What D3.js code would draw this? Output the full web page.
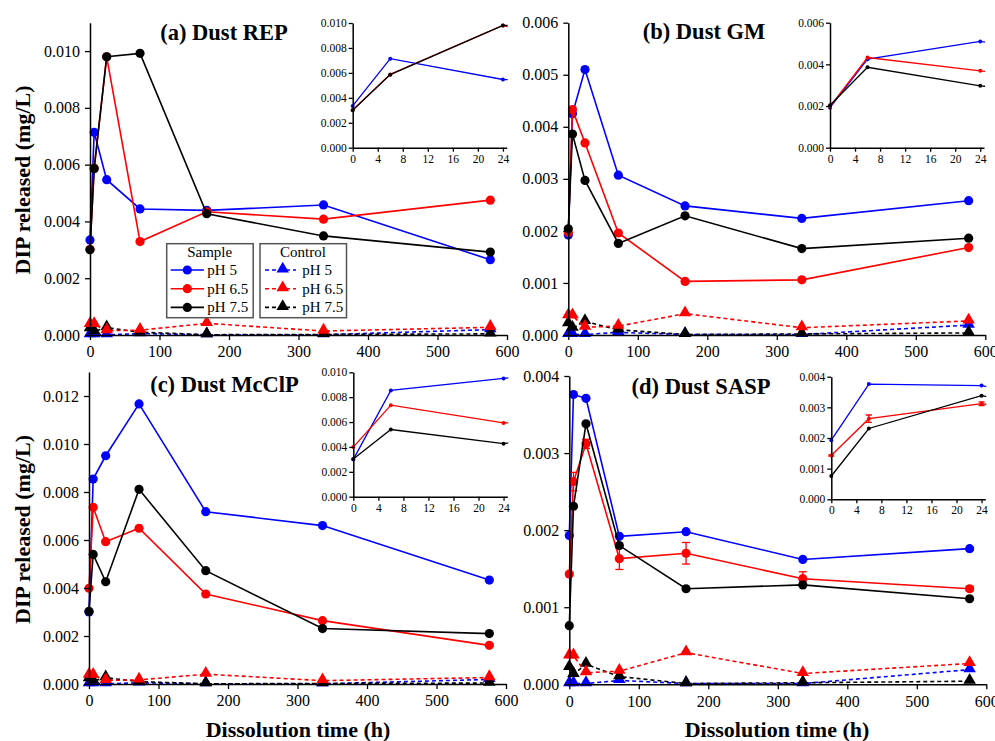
<!DOCTYPE html>
<html>
<head>
<meta charset="utf-8">
<script src="https://cdn.jsdelivr.net/npm/d3@7"></script>
<style>
  body { margin: 0; background: #fff; }
  text { font-family: "Liberation Serif", "Times New Roman", serif; }
</style>
</head>
<body>
<div id="chart"></div>
<script>
var width = 995;
var height = 741;

// sampling times (h)
var times = [0, 6, 24, 72, 168, 336, 576];

// (a) Dust REP
var repPH5  = [0.00335, 0.00714, 0.00547, 0.00444, 0.00439, 0.00458, 0.00265];
var repPH65 = [0.00302, 0.00588, 0.00980, 0.00329, 0.00434, 0.00408, 0.00475];
var repPH75 = [0.00300, 0.00586, 0.00980, 0.00992, 0.00427, 0.00349, 0.00292];

// (b) Dust GM
var gmPH5  = [0.00192, 0.00425, 0.00510, 0.00307, 0.00248, 0.00224, 0.00258];
var gmPH65 = [0.00197, 0.00433, 0.00369, 0.00196, 0.00103, 0.00106, 0.00168];
var gmPH75 = [0.00204, 0.00386, 0.00297, 0.00176, 0.00229, 0.00166, 0.00186];

// (c) Dust McClP
var mcPH5  = [0.00300, 0.00854, 0.00951, 0.01167, 0.00718, 0.00660, 0.00433];
var mcPH65 = [0.00399, 0.00736, 0.00593, 0.00649, 0.00375, 0.00264, 0.00161];
var mcPH75 = [0.00303, 0.00540, 0.00426, 0.00811, 0.00472, 0.00231, 0.00210];

// (d) Dust SASP
var saPH5  = [0.00193, 0.00376, 0.00371, 0.00192, 0.00198, 0.00162, 0.00176];
var saPH65 = [0.00143, 0.00263, 0.00312, 0.00163, 0.00170, 0.00137, 0.00124];
var saPH75 = [0.00076, 0.00231, 0.00338, 0.00180, 0.00124, 0.00129, 0.00111];
var saPH65Err = [0.00002, 0.00012, 0.00006, 0.00014, 0.00014, 0.00009, 0.00003];

// controls (no dust)
var ctrlPH5  = [0.00001, 0.00001, 0.00001, 0.00005, 0.00001, 0.00001, 0.00019];
var ctrlPH65 = [0.00037, 0.00037, 0.00015, 0.00017, 0.00041, 0.00014, 0.00027];
var ctrlPH75 = [0.00022, 0.00013, 0.00026, 0.00010, 0.00001, 0.00002, 0.00004];

var legendLabels = ["pH 5", "pH 6.5", "pH 7.5"];
var colors = ["#0000ff", "#ff0000", "#000000"];
var serif = "'Liberation Serif', 'Times New Roman', serif";

var svg = d3.select("#chart").append("svg")
    .attr("width", width)
    .attr("height", height)
    .attr("font-family", serif);

function range(a, b, step) {
  var out = [];
  for (var v = a; v <= b + step / 1000; v += step) out.push(+v.toFixed(6));
  return out;
}

function axes(g, x, y, xMajor, xMinor, yMajor, yMinor, fontSize, bigTick, pad) {
  var small = bigTick * 0.55;
  var xa = g.append("g").attr("transform", "translate(0," + y.range()[0] + ")");
  xa.call(d3.axisBottom(x).tickValues(xMinor).tickSize(small).tickFormat(""));
  xa.call(d3.axisBottom(x).tickValues(xMajor).tickSize(bigTick).tickSizeOuter(0).tickPadding(pad + 1));
  var ya = g.append("g").attr("transform", "translate(" + x.range()[0] + ",0)");
  ya.call(d3.axisLeft(y).tickValues(yMinor).tickSize(small).tickFormat(""));
  ya.call(d3.axisLeft(y).tickValues(yMajor).tickSize(bigTick).tickSizeOuter(0)
      .tickPadding(pad).tickFormat(d3.format(".3f")));
  g.selectAll("g").attr("font-family", serif);
  g.selectAll(".domain").attr("stroke", "#000").attr("stroke-width", 1.5);
  g.selectAll(".tick line").attr("stroke", "#000").attr("stroke-width", 1.3);
  g.selectAll(".tick text").attr("fill", "#000")
      .style("font-size", fontSize + "px")
      .style("font-family", serif);
}

function series(g, x, y, vals, color, dashed, shape, r, err) {
  var pts = times.map(function (t, i) { return { t: t, v: vals[i], e: err ? err[i] : 0 }; });
  var line = d3.line().x(function (d) { return x(d.t); }).y(function (d) { return y(d.v); });
  g.append("path")
      .datum(pts)
      .attr("d", line)
      .attr("fill", "none")
      .attr("stroke", color)
      .attr("stroke-width", r > 3 ? 1.6 : 1.3)
      .attr("stroke-dasharray", dashed ? "4,3" : null);
  if (err) {
    pts.forEach(function (d) {
      var cap = r > 3 ? 4 : 3;
      g.append("line").attr("x1", x(d.t)).attr("x2", x(d.t))
          .attr("y1", y(d.v - d.e)).attr("y2", y(d.v + d.e))
          .attr("stroke", color).attr("stroke-width", 1.3);
      [d.v - d.e, d.v + d.e].forEach(function (v) {
        g.append("line").attr("x1", x(d.t) - cap).attr("x2", x(d.t) + cap)
            .attr("y1", y(v)).attr("y2", y(v))
            .attr("stroke", color).attr("stroke-width", 1.3);
      });
    });
  }
  if (shape == "circle") {
    g.selectAll(null).data(pts).enter().append("circle")
        .attr("cx", function (d) { return x(d.t); })
        .attr("cy", function (d) { return y(d.v); })
        .attr("r", r)
        .attr("fill", color);
  } else {
    var tri = d3.symbol().type(d3.symbolTriangle).size(r * r * 3.2);
    g.selectAll(null).data(pts).enter().append("path")
        .attr("d", tri)
        .attr("transform", function (d) { return "translate(" + x(d.t) + "," + (y(d.v) - 1) + ")"; })
        .attr("fill", color);
  }
}

function panel(p) {
  var g = svg.append("g");
  var x = d3.scaleLinear().domain([0, 600]).range([p.left, p.left + 417]);
  var y = d3.scaleLinear().domain([0, p.ymax]).range([p.bottom, p.top]);

  // controls first, then samples
  var ctrl = [ctrlPH5, ctrlPH65, ctrlPH75];
  var ctrlOrder = [0, 2, 1];
  ctrlOrder.forEach(function (i) { series(g, x, y, ctrl[i], colors[i], true, "tri", 4.6); });
  p.sample.forEach(function (vals, i) {
    series(g, x, y, vals, colors[i], false, "circle", 4.6, i == 1 ? p.err : null);
  });
  axes(g, x, y, range(0, 600, 100), range(0, 600, 50),
       range(0, p.ymax, p.ystep), range(0, p.ymax, p.ystep / 2), 16, 5, 5);

  g.append("text")
      .attr("x", p.titleX)
      .attr("y", p.titleY)
      .attr("text-anchor", "middle")
      .style("font-size", "22.5px")
      .style("font-weight", "bold")
      .text(p.title);

  // inset
  var ig = svg.append("g");
  var ix = d3.scaleLinear().domain([0, 24.6]).range([p.inLeft, p.inLeft + 154]);
  var iy = d3.scaleLinear().domain([0, p.inMax]).range([p.inBottom, p.inTop]);
  var clipId = "clip" + p.id;
  ig.append("clipPath").attr("id", clipId).append("rect")
      .attr("x", p.inLeft - 4).attr("y", p.inTop - 6)
      .attr("width", 159).attr("height", p.inBottom - p.inTop + 10);
  var inner = ig.append("g").attr("clip-path", "url(#" + clipId + ")");
  p.sample.forEach(function (vals, i) {
    series(inner, ix, iy, vals, colors[i], false, "circle", 2, i == 1 ? p.err : null);
  });
  axes(ig, ix, iy, range(0, 24, 4), range(0, 24, 2),
       range(0, p.inMax, p.inStep), range(0, p.inMax, p.inStep / 2), 11.5, 4, 2);
}

panel({ id: "a", title: "(a) Dust REP", titleX: 224, titleY: 40,
        left: 90, bottom: 335, top: 22.7, ymax: 0.011, ystep: 0.002,
        sample: [repPH5, repPH65, repPH75],
        inLeft: 352.7, inBottom: 147.7, inTop: 23, inMax: 0.010, inStep: 0.002 });
panel({ id: "b", title: "(b) Dust GM", titleX: 704, titleY: 39,
        left: 568.3, bottom: 335, top: 22.7, ymax: 0.006, ystep: 0.001,
        sample: [gmPH5, gmPH65, gmPH75],
        inLeft: 830, inBottom: 147.7, inTop: 22.7, inMax: 0.006, inStep: 0.002 });
panel({ id: "c", title: "(c) Dust McClP", titleX: 224.5, titleY: 392,
        left: 89, bottom: 684, top: 372, ymax: 0.013, ystep: 0.002,
        sample: [mcPH5, mcPH65, mcPH75],
        inLeft: 353.3, inBottom: 496.7, inTop: 372.3, inMax: 0.010, inStep: 0.002 });
panel({ id: "d", title: "(d) Dust SASP", titleX: 701, titleY: 394,
        left: 569.3, bottom: 684.3, top: 376, ymax: 0.004, ystep: 0.001,
        sample: [saPH5, saPH65, saPH75], err: saPH65Err,
        inLeft: 831.3, inBottom: 499.3, inTop: 376.7, inMax: 0.004, inStep: 0.001 });

// axis titles
[180, 529.5].forEach(function (cy) {
  svg.append("text")
      .attr("transform", "translate(30," + cy + ") rotate(-90)")
      .attr("text-anchor", "middle")
      .style("font-size", "22px")
      .style("font-weight", "bold")
      .text("DIP released (mg/L)");
});
[298, 777].forEach(function (cx) {
  svg.append("text")
      .attr("x", cx)
      .attr("y", 737)
      .attr("text-anchor", "middle")
      .style("font-size", "22px")
      .style("font-weight", "bold")
      .text("Dissolution time (h)");
});

// legend in panel (a)
function legendBox(x0, title, dashed, shape, lineX1, lineX2, markX, textX) {
  var lg = svg.append("g");
  lg.append("rect")
      .attr("x", x0).attr("y", 243.7)
      .attr("width", 86.5).attr("height", 74)
      .attr("fill", "#fff").attr("stroke", "#555").attr("stroke-width", 1.5);
  lg.append("text")
      .attr("x", x0 + 43).attr("y", 257)
      .attr("text-anchor", "middle")
      .style("font-size", "15px")
      .text(title);
  legendLabels.forEach(function (lab, i) {
    var yy = 270 + i * 18.7;
    lg.append("line")
        .attr("x1", lineX1).attr("x2", lineX2).attr("y1", yy).attr("y2", yy)
        .attr("stroke", colors[i]).attr("stroke-width", 1.6)
        .attr("stroke-dasharray", dashed ? "4,3" : null);
    if (shape == "circle") {
      lg.append("circle").attr("cx", markX).attr("cy", yy).attr("r", 4.6).attr("fill", colors[i]);
    } else {
      lg.append("path").attr("d", d3.symbol().type(d3.symbolTriangle).size(68)())
          .attr("transform", "translate(" + markX + "," + (yy - 1) + ")")
          .attr("fill", colors[i]);
    }
    lg.append("text")
        .attr("x", textX).attr("y", yy + 5)
        .style("font-size", "15px")
        .text(lab);
  });
}
legendBox(166.7, "Sample", false, "circle", 170.7, 204, 187.3, 207.3);
legendBox(260, "Control", true, "tri", 265, 296, 282.7, 302.3);
</script>
</body>
</html>
